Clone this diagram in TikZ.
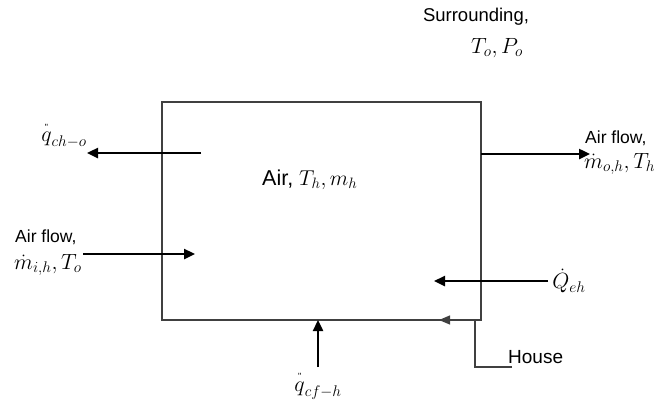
\RequirePackage{fix-cm}
\documentclass[tikz,border=0pt]{standalone}
\usepackage{amsmath}
\usepackage{fontspec}
\setmainfont{Liberation Sans}
\usetikzlibrary{arrows.meta}
\newcommand{\dq}{\overset{\raisebox{-3pt}{\small\textquotedbl}}{q}}
\tikzset{
  x=1pt,y=-1pt,
  boxline/.style={draw=black!75,line width=1.6pt},
  arr/.style={line width=2.4pt,-{Triangle[length=11pt,width=10pt]}},
  lead/.style={draw=black!75,line width=1.1pt},
  leadarr/.style={lead,-{Triangle[length=11pt,width=9pt]}},
  lbl/.style={inner sep=0pt,font=\fontsize{17.5}{20}\selectfont},
  mlbl/.style={inner sep=0pt,font=\fontsize{22}{26}\selectfont},
}
\begin{document}
\begin{tikzpicture}
\useasboundingbox (0,0) rectangle (658,400);
% house box
\node[boxline,minimum width=319pt,minimum height=218pt,inner sep=0pt] (box) at (321.5,211) {};
\node[mlbl,anchor=base west] (air) at (262,185) {\fontsize{21.5}{24}\selectfont Air, $T_h, m_h$};
% surrounding
\node[lbl,font=\fontsize{18.5}{21}\selectfont] (surr) at (476,17) {Surrounding,};
\node[mlbl] (tp) at (497,48) {$T_o, P_o$};
% q ch-o
\node[mlbl] (qcho) at (64,135) {$\dq_{ch-o}$};
\coordinate (qchoS) at (201,153);
\coordinate (qchoE) at (87,153);
\draw[arr] (qchoS) -- (qchoE);
% air flow in
\node[lbl,anchor=west] (afin) at (15,237) {Air flow,};
\node[mlbl,anchor=west] (min) at (14,265) {$\dot m_{i,h}, T_o$};
\coordinate (minS) at (83,254);
\coordinate (minE) at (195,254);
\draw[arr] (minS) -- (minE);
% air flow out
\node[lbl,anchor=west] (afout) at (585,138) {Air flow,};
\node[mlbl,anchor=west] (mout) at (584,164) {$\dot m_{o,h}, T_h$};
\coordinate (moutS) at (481,154);
\coordinate (moutE) at (590,154);
\draw[arr] (moutS) -- (moutE);
% Q eh
\node[mlbl] (qeh) at (569,281) {$\dot Q_{eh}$};
\coordinate (qehS) at (548,281);
\coordinate (qehE) at (434,281);
\draw[arr] (qehS) -- (qehE);
% q cf-h
\node[mlbl] (qcfh) at (318,385) {$\dq_{cf-h}$};
\coordinate (qcfhS) at (318,367);
\coordinate (qcfhE) at (318,320);
\draw[arr] (qcfhS) -- (qcfhE);
% house leader
\node[lbl,anchor=west,font=\fontsize{19}{22}\selectfont] (houselbl) at (508,357) {House};
\coordinate (h0) at (512,367);
\coordinate (h1) at (475,367);
\coordinate (h2) at (475,320);
\coordinate (h3) at (439,320);
\draw[lead] (h0) -- (h1) -- (h2);
\draw[leadarr] (h2) -- (h3);
\end{tikzpicture}
\end{document}
